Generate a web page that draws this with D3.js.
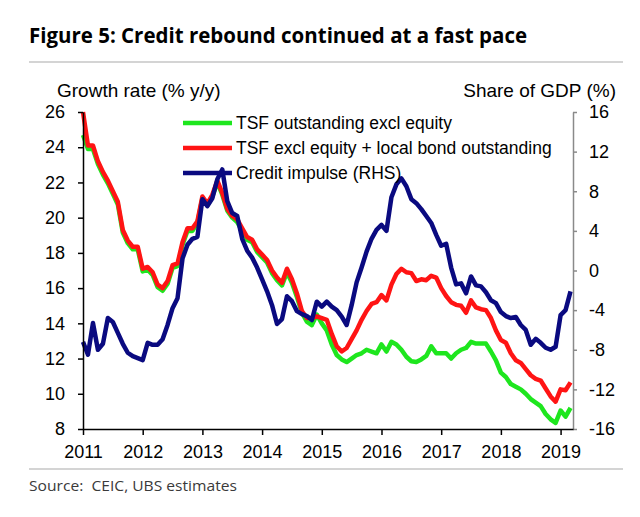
<!DOCTYPE html>
<html>
<head>
<meta charset="utf-8">
<script src="https://cdn.jsdelivr.net/npm/d3@7"></script>
<style>
html,body{margin:0;padding:0;background:#fff;}
svg{display:block;font-family:"Liberation Sans",Arial,sans-serif;}
</style>
</head>
<body>
<svg id="chart" width="640" height="517"></svg>
<script>
// ---- Data (monthly, Jan 2011 - Mar 2019) ----
const startYear = 2011;
const tsfExclEquity = [
 24.7,23.9,23.9,23.05,22.45,21.95,21.35,20.75,19.15,18.55,18.2,18.2,
 16.95,17.05,16.75,16.05,15.85,16.25,17.15,17.25,18.45,19.25,19.25,19.7,
 21.1,20.7,21.2,22.0,21.3,20.4,20.0,19.75,19.25,18.75,18.6,18.05,
 17.75,17.45,16.85,16.45,16.15,16.9,16.3,15.5,14.6,14.1,13.9,14.5,
 14.0,13.6,12.8,12.2,11.95,11.8,12.0,12.2,12.3,12.5,12.4,12.3,
 12.8,12.4,12.95,12.8,12.5,12.1,11.85,11.8,11.95,12.15,12.7,12.3,
 12.3,12.3,12.0,12.3,12.5,12.6,12.95,12.85,12.85,12.85,12.4,11.9,
 11.2,10.95,10.55,10.4,10.25,10.0,9.7,9.5,9.3,8.85,8.55,8.35,
 9.05,8.7,9.2
];
const tsfPlusBonds = [
 26.0,24.1,24.1,23.2,22.6,22.1,21.5,20.9,19.3,18.7,18.35,18.35,
 17.1,17.2,16.9,16.2,16.0,16.4,17.3,17.4,18.6,19.4,19.4,19.8,
 21.2,20.8,21.3,22.1,21.4,20.5,20.1,19.9,19.4,18.9,18.75,18.2,
 17.9,17.6,17.0,16.6,16.3,17.1,16.5,15.7,14.7,14.3,14.3,14.4,
 14.3,14.2,13.4,12.7,12.4,12.6,13.1,13.6,14.2,14.7,15.1,15.2,
 15.6,15.3,16.2,16.8,17.1,16.9,16.85,16.4,16.5,16.45,16.7,16.6,
 16.0,15.55,15.2,15.05,15.0,14.6,15.3,14.9,14.8,14.75,14.3,13.6,
 13.05,12.9,12.3,11.9,11.75,11.4,11.05,10.85,10.75,10.3,9.85,9.55,
 10.25,10.2,10.65
];
const creditImpulse = [
 -7.2,-8.5,-5.3,-8.0,-7.4,-4.8,-5.2,-6.3,-7.4,-8.3,-8.65,-8.85,
 -9.05,-7.3,-7.5,-7.5,-6.95,-5.5,-3.8,-2.8,1.2,2.6,3.2,3.4,
 7.2,6.5,7.3,9.2,10.2,7.0,5.8,5.5,3.2,2.0,1.3,0.3,
 -0.9,-2.1,-3.5,-5.4,-4.9,-2.6,-3.1,-4.1,-4.4,-4.6,-5.0,-3.15,
 -3.65,-3.15,-3.65,-4.0,-4.65,-5.5,-3.5,-1.2,0.3,1.9,3.2,4.1,
 4.6,4.0,7.4,8.7,9.3,8.5,7.2,6.8,6.2,5.5,4.8,3.6,
 2.5,2.7,0.3,-1.4,-1.3,-2.3,-0.6,-1.5,-1.6,-2.2,-3.0,-3.3,
 -4.2,-4.6,-4.8,-4.7,-5.5,-6.0,-7.5,-6.9,-7.3,-7.8,-8.0,-7.7,
 -4.5,-4.0,-2.1
];
const yearTicks = [2011,2012,2013,2014,2015,2016,2017,2018,2019];
const leftTicks = [8,10,12,14,16,18,20,22,24,26];
const rightTicks = [-16,-12,-8,-4,0,4,8,12,16];
const seriesNames = ["TSF outstanding excl equity","TSF excl equity + local bond outstanding","Credit impulse (RHS)"];
const seriesColors = ["#1ee61e","#ff1414","#0a0a80"];

// ---- Layout ----
const svg = d3.select("#chart");
const plot = {left:83, right:573, top:112, bottom:429};

const x = d3.scaleLinear().domain([2011, 2019.208]).range([plot.left, plot.right]);
const yL = d3.scaleLinear().domain([8,26]).range([plot.bottom, plot.top]);
const yR = d3.scaleLinear().domain([-16,16]).range([plot.bottom, plot.top]);
const t = i => startYear + i/12;

// Title
svg.append("text").attr("x",29).attr("y",43)
  .attr("font-family","'Open Sans','Noto Sans',sans-serif").attr("font-weight","bold")
  .attr("font-size",21).attr("fill","#000")
  .attr("textLength",498).attr("lengthAdjust","spacingAndGlyphs")
  .text("Figure 5: Credit rebound continued at a fast pace");
svg.append("line").attr("x1",29).attr("x2",623).attr("y1",62).attr("y2",62)
  .attr("stroke","#d4d4d4").attr("stroke-width",2);
svg.append("line").attr("x1",29).attr("x2",623).attr("y1",469).attr("y2",469)
  .attr("stroke","#d4d4d4").attr("stroke-width",2);
svg.append("text").attr("x",29).attr("y",491)
  .attr("font-family","'Open Sans','Noto Sans',sans-serif")
  .attr("font-size",15).attr("fill","#3a3a3a")
  .attr("textLength",208).attr("lengthAdjust","spacingAndGlyphs")
  .attr("xml:space","preserve")
  .text("Source:  CEIC, UBS estimates");

// Axis titles
svg.append("text").attr("x",57).attr("y",97).attr("font-size",19).attr("fill","#000")
  .text("Growth rate (% y/y)");
svg.append("text").attr("x",616).attr("y",97).attr("font-size",19).attr("fill","#000")
  .attr("text-anchor","end").text("Share of GDP (%)");

// Lines
const lineL = d3.line().x((d,i)=>x(t(i))).y(d=>yL(d));
const lineR = d3.line().x((d,i)=>x(t(i))).y(d=>yR(d));
const g = svg.append("g");
g.append("path").datum(tsfExclEquity).attr("d",lineL).attr("fill","none")
  .attr("stroke",seriesColors[0]).attr("stroke-width",4.5).attr("stroke-linejoin","round");
g.append("path").datum(tsfPlusBonds).attr("d",lineL).attr("fill","none")
  .attr("stroke",seriesColors[1]).attr("stroke-width",4.5).attr("stroke-linejoin","round");
g.append("path").datum(creditImpulse).attr("d",lineR).attr("fill","none")
  .attr("stroke",seriesColors[2]).attr("stroke-width",4.5).attr("stroke-linejoin","round");

// Axes
const axL = svg.append("g").attr("transform",`translate(${plot.left},0)`)
  .call(d3.axisLeft(yL).tickValues(leftTicks).tickSize(5).tickSizeOuter(0).tickPadding(13));
axL.select(".domain").attr("stroke","#000").attr("stroke-width",1.5);
axL.selectAll(".tick line").attr("stroke","#000").attr("stroke-width",1.5);
axL.selectAll("text").attr("font-size",18).attr("fill","#000").attr("font-family","'Liberation Sans',Arial,sans-serif");

const axR = svg.append("g").attr("transform",`translate(${plot.right},0)`)
  .call(d3.axisRight(yR).tickValues(rightTicks).tickSize(4).tickSizeOuter(0).tickPadding(12)
  .tickFormat(d=> d<0 ? "-"+Math.abs(d) : String(d)));
axR.select(".domain").attr("stroke","#8a8a8a").attr("stroke-width",1.5);
axR.selectAll(".tick line").attr("stroke","#8a8a8a").attr("stroke-width",1.5);
axR.selectAll("text").attr("font-size",18).attr("fill","#000").attr("font-family","'Liberation Sans',Arial,sans-serif");

const axB = svg.append("g").attr("transform",`translate(0,${plot.bottom})`)
  .call(d3.axisBottom(x).tickValues(yearTicks).tickFormat(d3.format("d")).tickSize(6).tickSizeOuter(0).tickPadding(10));
axB.select(".domain").attr("stroke","#000").attr("stroke-width",1.5);
axB.selectAll(".tick line").attr("stroke","#000").attr("stroke-width",1.5);
axB.selectAll("text").attr("font-size",18).attr("fill","#000").attr("font-family","'Liberation Sans',Arial,sans-serif");

// Legend
const leg = svg.append("g");
const legY = [123,148,173];
seriesNames.forEach((name,k)=>{
  leg.append("line").attr("x1",183).attr("x2",232).attr("y1",legY[k]).attr("y2",legY[k])
    .attr("stroke",seriesColors[k]).attr("stroke-width",4.5);
  leg.append("text").attr("x",236).attr("y",legY[k]+6).attr("font-size",17.5).attr("fill","#000").text(name);
});
</script>
</body>
</html>
